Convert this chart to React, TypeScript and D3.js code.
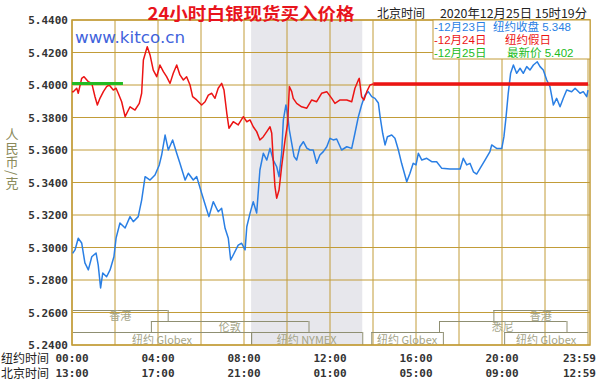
import React from "react";
import * as d3 from "d3";

// ---------- data ----------
const yTicks = [5.44, 5.42, 5.4, 5.38, 5.36, 5.34, 5.32, 5.3, 5.28, 5.26, 5.24];
const labelHours = [0, 4, 8, 12, 16, 20, 24];
const nyTimeLabels = ["00:00", "04:00", "08:00", "12:00", "16:00", "20:00", "23:59"];
const bjTimeLabels = ["13:00", "17:00", "21:00", "01:00", "05:00", "09:00", "12:59"];
const gridHours = [0, 2, 4, 6, 8, 10, 12, 14, 16, 18, 20, 22, 24];

// 12月23日 纽约收盘 (blue) [hour NY, price]
const blueSeries: [number, number][] = [
  [0.03, 5.2964], [0.14, 5.2985], [0.29, 5.3057], [0.45, 5.3028], [0.6, 5.2905], [0.76, 5.2862],
  [0.92, 5.2943], [1.12, 5.2966], [1.22, 5.2892], [1.33, 5.2751], [1.43, 5.2843], [1.61, 5.282],
  [1.77, 5.2862], [1.95, 5.2943], [2.05, 5.3058], [2.23, 5.3151], [2.47, 5.312], [2.7, 5.319],
  [2.85, 5.3159], [3.08, 5.319], [3.24, 5.3292], [3.4, 5.3436], [3.63, 5.3415], [3.86, 5.3446],
  [4.06, 5.3508], [4.17, 5.3569], [4.33, 5.3692], [4.48, 5.36], [4.68, 5.3662], [4.87, 5.358],
  [5.02, 5.3518], [5.26, 5.3415], [5.41, 5.3457], [5.64, 5.3415], [5.8, 5.3436], [6.03, 5.3334],
  [6.27, 5.3231], [6.37, 5.319], [6.57, 5.3282], [6.8, 5.322], [6.96, 5.3241], [7.12, 5.3118],
  [7.27, 5.3057], [7.38, 5.2923], [7.5, 5.2954], [7.73, 5.3015], [7.89, 5.3026], [8.05, 5.2985],
  [8.13, 5.3128], [8.28, 5.321], [8.43, 5.3282], [8.59, 5.3212], [8.74, 5.3477], [8.9, 5.358],
  [9.06, 5.3538], [9.21, 5.361], [9.36, 5.3538], [9.52, 5.3497], [9.63, 5.3436], [9.75, 5.358],
  [9.83, 5.3785], [9.95, 5.3877], [10.03, 5.3815], [10.11, 5.3723], [10.22, 5.3641], [10.33, 5.3559],
  [10.45, 5.3538], [10.6, 5.362], [10.76, 5.3651], [10.92, 5.3612], [11.07, 5.36], [11.22, 5.36],
  [11.38, 5.3518], [11.53, 5.3569], [11.69, 5.359], [11.85, 5.362], [12.0, 5.3672], [12.15, 5.3662],
  [12.31, 5.3668], [12.54, 5.36], [12.78, 5.362], [13.01, 5.361], [13.16, 5.3703], [13.32, 5.3805],
  [13.47, 5.3877], [13.63, 5.3938], [13.78, 5.3959], [13.94, 5.3928], [14.09, 5.3918], [14.25, 5.3889],
  [14.33, 5.3805], [14.45, 5.3703], [14.56, 5.3631], [14.67, 5.3682], [14.87, 5.3692], [15.02, 5.3672],
  [15.18, 5.36], [15.33, 5.3518], [15.57, 5.3405], [15.72, 5.3457], [15.87, 5.3518], [16.0, 5.3508],
  [16.11, 5.358], [16.27, 5.3538], [16.5, 5.3549], [16.73, 5.3528], [16.96, 5.3528], [17.2, 5.3487],
  [17.58, 5.3483], [18.05, 5.3483], [18.2, 5.3549], [18.36, 5.3508], [18.51, 5.3518], [18.67, 5.3466],
  [18.82, 5.3452], [18.98, 5.3487], [19.21, 5.3538], [19.44, 5.359], [19.52, 5.3631], [19.75, 5.361],
  [19.99, 5.361], [20.09, 5.3682], [20.19, 5.3805], [20.29, 5.3949], [20.4, 5.4072], [20.53, 5.4123],
  [20.68, 5.4072], [20.84, 5.4103], [20.99, 5.4072], [21.15, 5.4113], [21.3, 5.4092], [21.46, 5.4123],
  [21.64, 5.4143], [21.77, 5.4113], [21.92, 5.4092], [22.08, 5.4031], [22.23, 5.399], [22.39, 5.3877],
  [22.54, 5.3918], [22.7, 5.3866], [22.85, 5.3918], [23.01, 5.3969], [23.24, 5.3959], [23.4, 5.398],
  [23.63, 5.3949], [23.78, 5.3959], [23.94, 5.3928], [24.0, 5.3969],
];

// 12月24日 纽约假日 (red)
const redSeries: [number, number][] = [
  [0.0, 5.3959], [0.06, 5.3959], [0.22, 5.398], [0.29, 5.3949], [0.45, 5.4041], [0.56, 5.4051], [0.76, 5.402],
  [0.92, 5.401], [1.07, 5.3928], [1.18, 5.3877], [1.3, 5.3918], [1.46, 5.3959], [1.61, 5.399],
  [1.73, 5.4], [1.92, 5.3969], [2.05, 5.398], [2.15, 5.3949], [2.31, 5.3897], [2.47, 5.3805],
  [2.7, 5.3866], [2.93, 5.3846], [3.13, 5.3887], [3.24, 5.3949], [3.32, 5.4154], [3.5, 5.4236],
  [3.63, 5.4185], [3.78, 5.4092], [3.94, 5.4051], [4.09, 5.4123], [4.25, 5.4082], [4.4, 5.4051],
  [4.56, 5.401], [4.71, 5.4072], [4.87, 5.4123], [5.02, 5.4062], [5.18, 5.4031], [5.33, 5.4051],
  [5.49, 5.4], [5.61, 5.3928], [5.8, 5.3908], [6.03, 5.3877], [6.19, 5.3897], [6.34, 5.3938],
  [6.5, 5.3949], [6.65, 5.3918], [6.8, 5.398], [6.96, 5.401], [7.07, 5.3969], [7.2, 5.3826],
  [7.3, 5.3734], [7.5, 5.3774], [7.73, 5.3754], [7.97, 5.3805], [8.13, 5.3774], [8.28, 5.3785],
  [8.43, 5.3743], [8.59, 5.3713], [8.74, 5.3662], [8.9, 5.3682], [9.06, 5.3713], [9.21, 5.3743],
  [9.29, 5.3703], [9.36, 5.3538], [9.44, 5.3374], [9.52, 5.3303], [9.63, 5.3354], [9.75, 5.3497],
  [9.91, 5.3662], [10.03, 5.3764], [10.11, 5.399], [10.22, 5.3959], [10.29, 5.3918], [10.45, 5.3887],
  [10.68, 5.3866], [10.92, 5.3857], [11.15, 5.3908], [11.38, 5.3897], [11.61, 5.3949], [11.85, 5.3959],
  [12.08, 5.3918], [12.23, 5.3887], [12.47, 5.3908], [12.78, 5.3908], [13.01, 5.3897], [13.16, 5.398],
  [13.32, 5.4031], [13.36, 5.4041], [13.47, 5.3928], [13.58, 5.3908], [13.71, 5.3959], [13.86, 5.4],
  [14.01, 5.4006],
];
const redHoldLevel = 5.4006;
const redHoldHours = [14.01, 24];

// 12月25日 最新价 (green)
const greenLevel = 5.401;
const greenHours = [0, 2.37];

const nymexHours = [8.33, 13.5];

// market sessions: name, row, start hour, end hour
const bandNames = ["香港", "香港", "伦敦", "悉尼", "纽约 Globex", "纽约 NYMEX", "纽约 Globex", "纽约 Globex"];
const bandRows = [0, 0, 1, 1, 2, 2, 2, 2];
const bandStarts = [0, 19.6, 3.67, 17.07, 0, 8.33, 13.92, 20.1];
const bandEnds = [4.45, 24, 11.0, 23.0, 8.33, 13.5, 17.25, 24];

const legendDates = ["-12月23日", "-12月24日", "-12月25日"];
const legendNotes = ["纽约收盘 5.348", "纽约假日", "最新价 5.402"];
const yTitle = "人民币/克";

// ---------- styles ----------
const W = 600, H = 380;
const left = 72, right = 588, frameRight = 590, top = 20, bottom = 345;
const GOLD = "#c29c38";
const BLUE = "#2a7fe4";
const RED = "#ec1414";
const GREEN = "#22bb22";
const BAND = "#8f8f72";
const BANDTXT = "#a4a488";
const CJK = "'Noto Sans CJK SC', 'Noto Sans', sans-serif";
const TIGHT = "'Liberation Sans', 'Noto Sans CJK SC', sans-serif";
const MONO = "'DejaVu Sans Mono', monospace";
const legendColors = [BLUE, RED, GREEN];
const legendNoteX = [493, 505, 507];

export default function App() {
  const x = d3.scaleLinear().domain([0, 24]).range([left, right]);
  const y = d3.scaleLinear().domain([5.24, 5.44]).range([bottom, top]);
  const line = d3.line<[number, number]>().x((d) => x(d[0])).y((d) => y(d[1]));
  const rowTop = [310, 321, 332];
  const rowBot = [321, 332, 345];

  return (
    <div style={{ position: "absolute", left: 0, top: 0 }}>
      <svg width={W} height={H} style={{ display: "block", background: "#fff" }}>
        {/* NYMEX shading */}
        <rect x={x(nymexHours[0])} y={top} width={x(nymexHours[1]) - x(nymexHours[0])} height={bottom - top} fill="#e7e7ec" />

        {/* grid */}
        {yTicks.map((t) => (
          <line key={"h" + t} x1={left} x2={frameRight} y1={y(t)} y2={y(t)} stroke={GOLD} strokeWidth={1} />
        ))}
        {gridHours.map((h) => (
          <line key={"v" + h} x1={x(h)} x2={x(h)} y1={top} y2={bottom} stroke={GOLD} strokeWidth={1} />
        ))}

        {/* market session brackets */}
        {bandNames.map((name, i) => {
          const r = bandRows[i];
          const x1 = x(bandStarts[i]) + (bandStarts[i] === 0 ? 1 : 0);
          const x2 = Math.min(x(bandEnds[i]), frameRight - 1);
          const cx = (x1 + x2) / 2;
          return (
            <g key={"b" + i}>
              <line x1={x1} x2={x2} y1={rowTop[r] + 0.5} y2={rowTop[r] + 0.5} stroke={BAND} strokeWidth={1} />
              {bandStarts[i] > 0 && (
                <line x1={x1 + 0.5} x2={x1 + 0.5} y1={rowTop[r]} y2={rowBot[r]} stroke={BAND} strokeWidth={1} />
              )}
              {bandEnds[i] < 24 && (
                <line x1={x2 + 0.5} x2={x2 + 0.5} y1={rowTop[r]} y2={rowBot[r]} stroke={BAND} strokeWidth={1} />
              )}
              <text x={cx} y={rowBot[r] - 1.5} textAnchor="middle" fontSize={11} fontFamily={CJK} fill={BANDTXT}>
                {name}
              </text>
            </g>
          );
        })}

        {/* frame */}
        <rect x={left} y={top} width={frameRight - left} height={bottom - top} fill="none" stroke={GOLD} strokeWidth={1.5} />

        {/* series */}
        <path d={line(blueSeries) || ""} fill="none" stroke={BLUE} strokeWidth={1.5} strokeLinejoin="round" />
        <path d={line(redSeries) || ""} fill="none" stroke={RED} strokeWidth={1.5} strokeLinejoin="round" />
        <line x1={x(redHoldHours[0])} x2={x(redHoldHours[1])} y1={y(redHoldLevel)} y2={y(redHoldLevel)} stroke={RED} strokeWidth={3.5} />
        <line x1={x(greenHours[0])} x2={x(greenHours[1])} y1={y(greenLevel)} y2={y(greenLevel)} stroke={GREEN} strokeWidth={3} />

        {/* legend */}
        <rect x={433} y={top} width={frameRight - 433} height={39} fill="#fff" stroke={GOLD} strokeWidth={1} />
        <text fontSize={11.5} fontFamily={TIGHT}>
          {legendDates.map((d, i) => (
            <React.Fragment key={"l" + i}>
              <tspan x={434} y={31 + i * 13} fill={legendColors[i]}>{d}</tspan>
              <tspan x={legendNoteX[i]} y={31 + i * 13} fill={legendColors[i]}>{legendNotes[i]}</tspan>
            </React.Fragment>
          ))}
        </text>

        {/* title and header */}
        <text x={251} y={20} textAnchor="middle" fontSize={17} fontWeight="bold" fontFamily={CJK} fill="#e8141c" textLength={207} lengthAdjust="spacingAndGlyphs">
          24小时白银现货买入价格
        </text>
        <text x={377} y={18} fontSize={12} fontFamily={CJK} fill="#222">北京时间</text>
        <text x={440} y={18} fontSize={12} fontFamily={CJK} fill="#222" textLength={147} lengthAdjust="spacingAndGlyphs">
          2020年12月25日 15时19分
        </text>
        <text x={75} y={43} fontSize={16} fontFamily="'DejaVu Sans', sans-serif" fill="#3f63dc" textLength={110} lengthAdjust="spacingAndGlyphs">
          www.kitco.cn
        </text>

        {/* y axis */}
        {yTicks.map((t) => (
          <text key={"yt" + t} x={68} y={y(t) + 4} textAnchor="end" fontSize={11} fontWeight="bold" fontFamily={MONO} fill="#333">
            {t.toFixed(4)}
          </text>
        ))}
        <text x={12} y={128} fontSize={13} fontFamily={CJK} fill="#8a8a5a"
          style={{ writingMode: "vertical-rl", letterSpacing: "1px" } as React.CSSProperties}>
          {yTitle}
        </text>

        {/* x axis */}
        <text x={1} y={363} fontSize={12} fontFamily={TIGHT} fill="#222">纽约时间</text>
        <text x={1} y={377.5} fontSize={12} fontFamily={TIGHT} fill="#222">北京时间</text>
        {labelHours.map((h, i) => (
          <g key={"xt" + i}>
            <text x={h === 24 ? 596 : x(h)} y={362} textAnchor={h === 24 ? "end" : "middle"} fontSize={11} fontWeight="bold" fontFamily={MONO} fill="#333">
              {nyTimeLabels[i]}
            </text>
            <text x={h === 24 ? 596 : x(h)} y={377} textAnchor={h === 24 ? "end" : "middle"} fontSize={11} fontWeight="bold" fontFamily={MONO} fill="#333">
              {bjTimeLabels[i]}
            </text>
          </g>
        ))}
      </svg>
    </div>
  );
}
